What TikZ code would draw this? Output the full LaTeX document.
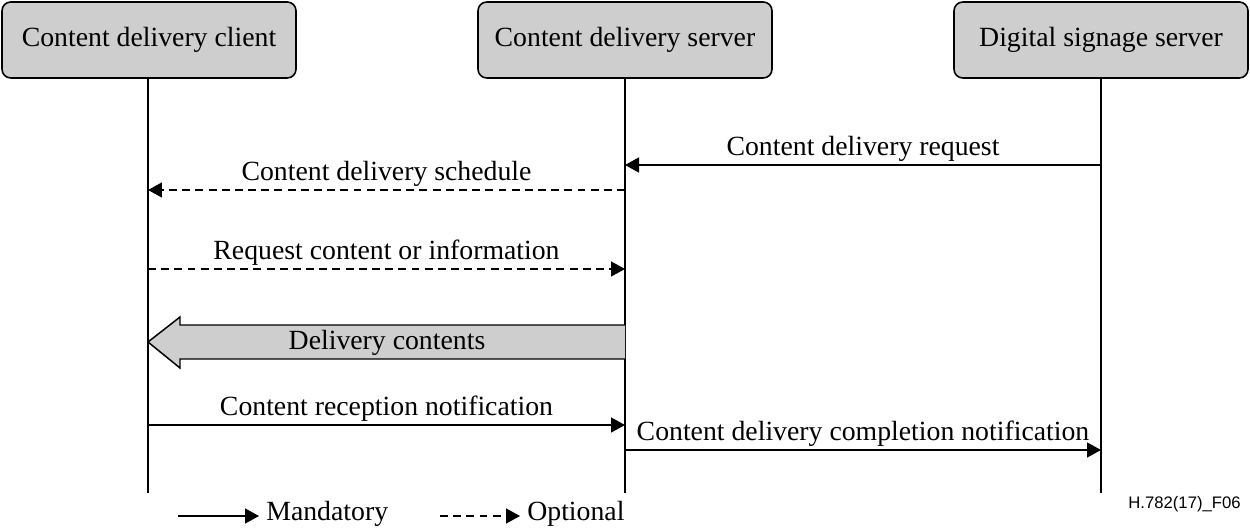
\documentclass[tikz,border=0pt]{standalone}
\usepackage{fontspec}
\setmainfont{Liberation Serif}
\newfontfamily\labsans{Liberation Sans}
\usetikzlibrary{arrows.meta,calc}
\definecolor{boxgray}{RGB}{206,206,206}
\tikzset{
  header/.style={draw=black, fill=boxgray, rounded corners=5pt, line width=0.9pt,
    minimum width=294*0.02cm, minimum height=76*0.02cm, inner sep=0pt, font=\fontsize{15.8}{18}\selectfont},
  lifeline/.style={line width=0.85pt},
  msg/.style={line width=0.85pt, -{Triangle[length=0.28cm,width=0.3cm]}},
  optmsg/.style={msg, dash pattern=on 4.5pt off 3pt},
  lbl/.style={font=\fontsize{15.8}{18}\selectfont, inner sep=0pt},
  mlbl/.style={lbl, anchor=base, yshift=0.2cm},
  bigarrow/.style={draw=black, fill=boxgray, line width=0.85pt},
}
\begin{document}
\begin{tikzpicture}[x=0.02cm, y=-0.02cm]
\useasboundingbox (0,0) rectangle (1250,530);
% headers
\node[header] (cli) at (149,40) {\raisebox{-1pt}{Content delivery client}};
\node[header] (srv) at (625,40) {\raisebox{-1pt}{Content delivery server}};
\node[header] (dss) at (1101,40) {\raisebox{-1pt}{Digital signage server}};
% lifeline ends
\coordinate (cliE) at (148,493);
\coordinate (srvE) at (625,493);
\coordinate (dssE) at (1101,493);
\draw[lifeline] (cli.south -| cliE) -- (cliE);
\draw[lifeline] (srv.south -| srvE) -- (srvE);
\draw[lifeline] (dss.south -| dssE) -- (dssE);
% message points
\coordinate (d1) at (1101,165); \coordinate (s1) at (625,165);
\coordinate (s2) at (625,190); \coordinate (c2) at (148,190);
\coordinate (c3) at (148,269); \coordinate (s3) at (625,269);
\coordinate (c5) at (148,425); \coordinate (s5) at (625,425);
\coordinate (s6) at (625,450); \coordinate (d6) at (1101,450);
\draw[msg] (d1) -- node[mlbl] (m1) {Content delivery request} (s1);
\draw[optmsg] (s2) -- node[mlbl] (m2) {Content delivery schedule} (c2);
\draw[optmsg] (c3) -- node[mlbl] (m3) {Request content or information} (s3);
% big arrow
\coordinate (bt) at (148,342);
\coordinate (bs) at (625,342);
\draw[bigarrow] ($(bs)+(0,-17)$) -- (180,325) -- (180,317) -- (bt) -- (180,368) -- (180,359) -- ($(bs)+(0,17)$);
\node[lbl] (m4) at (387,343) {Delivery contents};
\draw[msg] (c5) -- node[mlbl] (m5) {Content reception notification} (s5);
\draw[msg] (s6) -- node[mlbl] (m6) {Content delivery completion notification} (d6);
% legend
\coordinate (l1a) at (178,516); \coordinate (l1b) at (259,516);
\coordinate (l2a) at (440,516); \coordinate (l2b) at (520,516);
\draw[msg] (l1a) -- (l1b);
\node[lbl, anchor=west] (lm) at (266,514) {Mandatory};
\draw[optmsg] (l2a) -- (l2b);
\node[lbl, anchor=west] (lo) at (527,514) {Optional};
\node[font=\labsans\fontsize{9.5}{11}\selectfont, anchor=east, inner sep=0pt] (fig) at (1241,504) {H.782(17)\_F06};
\end{tikzpicture}
\end{document}
